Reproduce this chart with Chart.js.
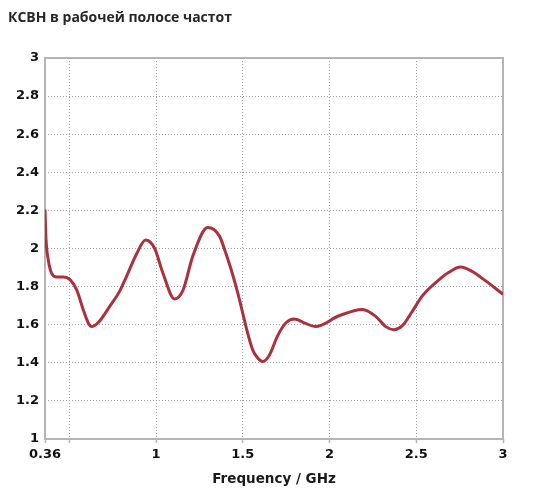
<!DOCTYPE html>
<html>
<head>
<meta charset="utf-8">
<script src="https://cdn.jsdelivr.net/npm/chart.js@4/dist/chart.umd.min.js"></script>
<style>
  html, body { margin: 0; padding: 0; background: #ffffff; }
  #wrap { width: 550px; height: 493px; }
</style>
</head>
<body>
<div id="wrap"><canvas id="c" width="550" height="493"></canvas></div>
<script>
const chartTitle = 'КСВН в рабочей полосе частот';
const xAxisTitle = 'Frequency / GHz';

const frequencyGHz = [0.36, 0.366, 0.379, 0.398, 0.427, 0.465, 0.504, 0.542, 0.58, 0.609,
  0.628, 0.666, 0.733, 0.79, 0.83, 0.887, 0.94, 0.992, 1.04, 1.107,
  1.155, 1.212, 1.298, 1.366, 1.395, 1.433, 1.471, 1.5, 1.528, 1.557,
  1.586, 1.615, 1.653, 1.70, 1.749, 1.797, 1.854, 1.92, 2.055, 2.19,
  2.266, 2.324, 2.371, 2.42, 2.477, 2.534, 2.611, 2.688, 2.755, 2.822,
  2.9, 3.0];
const vswr = [2.205, 2.047, 1.94, 1.87, 1.85, 1.85, 1.837, 1.784, 1.68, 1.61,
  1.59, 1.61, 1.696, 1.775, 1.854, 1.97, 2.044, 2.0, 1.87, 1.735,
  1.78, 1.96, 2.11, 2.065, 1.995, 1.89, 1.767, 1.66, 1.556, 1.468,
  1.425, 1.407, 1.44, 1.54, 1.61, 1.63, 1.61, 1.59, 1.647, 1.68,
  1.644, 1.59, 1.574, 1.595, 1.67, 1.75, 1.82, 1.875, 1.903, 1.88,
  1.83, 1.76];

const xTickValues = [0.36, 0.5, 1, 1.5, 2, 2.5, 3];
const xTickLabels = ['0.36', '', '1', '1.5', '2', '2.5', '3'];
const yTickValues = [1, 1.2, 1.4, 1.6, 1.8, 2, 2.2, 2.4, 2.6, 2.8, 3];
const yTickLabels = ['1', '1.2', '1.4', '1.6', '1.8', '2', '2.2', '2.4', '2.6', '2.8', '3'];

const points = frequencyGHz.map((f, i) => ({ x: f, y: vswr[i] }));

const frameColor = '#b4b4b4';
const gridColor = '#a0a0a0';
const tickFont = { family: 'DejaVu Sans', size: 13, weight: 'bold' };

const framePlugin = {
  id: 'frame',
  beforeDatasetsDraw(chart) {
    const { ctx, chartArea: a } = chart;
    ctx.save();
    ctx.strokeStyle = frameColor;
    ctx.lineWidth = 2;
    ctx.setLineDash([]);
    ctx.strokeRect(a.left, a.top, a.right - a.left, a.bottom - a.top);
    ctx.restore();
  }
};

new Chart(document.getElementById('c'), {
  type: 'line',
  data: {
    datasets: [{
      data: points,
      borderColor: '#ab313d',
      borderWidth: 3,
      pointRadius: 0,
      fill: false,
      cubicInterpolationMode: 'monotone'
    }]
  },
  options: {
    responsive: false,
    animation: false,
    layout: { padding: { left: 8, right: 47, top: 0, bottom: 0 } },
    plugins: {
      legend: { display: false },
      tooltip: { enabled: false },
      title: {
        display: true,
        text: chartTitle,
        align: 'start',
        color: '#262626',
        font: { family: 'Open Sans', size: 14, weight: 'bold', lineHeight: 1.2 },
        padding: { top: 10, bottom: 31.2 }
      }
    },
    scales: {
      x: {
        type: 'linear',
        min: 0.36,
        max: 3,
        afterBuildTicks(scale) { scale.ticks = xTickValues.map(v => ({ value: v })); },
        afterFit(scale) { scale.height = 54; },
        ticks: {
          autoSkip: false,
          maxRotation: 0,
          padding: 4,
          color: '#111',
          font: tickFont,
          callback(value) {
            const i = xTickValues.indexOf(value);
            return i >= 0 ? xTickLabels[i] : '';
          }
        },
        grid: {
          color: gridColor,
          lineWidth: 1,
          drawTicks: true,
          tickLength: 4,
          tickColor: frameColor,
          tickWidth: 1.5
        },
        border: { display: false, dash: [1, 2] },
        title: {
          display: true,
          text: xAxisTitle,
          color: '#1a1a1a',
          font: { family: 'DejaVu Sans', size: 13.5, weight: 'bold', lineHeight: 1.2 },
          padding: { top: 0, bottom: 5 }
        }
      },
      y: {
        type: 'linear',
        min: 1,
        max: 3,
        afterBuildTicks(scale) { scale.ticks = yTickValues.map(v => ({ value: v })); },
        afterFit(scale) { scale.width = 37; },
        ticks: {
          autoSkip: false,
          padding: 6,
          color: '#111',
          font: tickFont,
          callback(value) {
            const i = yTickValues.findIndex(v => Math.abs(v - value) < 1e-9);
            return i >= 0 ? yTickLabels[i] : '';
          }
        },
        grid: {
          color: gridColor,
          lineWidth: 1,
          drawTicks: false
        },
        border: { display: false, dash: [1, 2] }
      }
    }
  },
  plugins: [framePlugin]
});
</script>
</body>
</html>
